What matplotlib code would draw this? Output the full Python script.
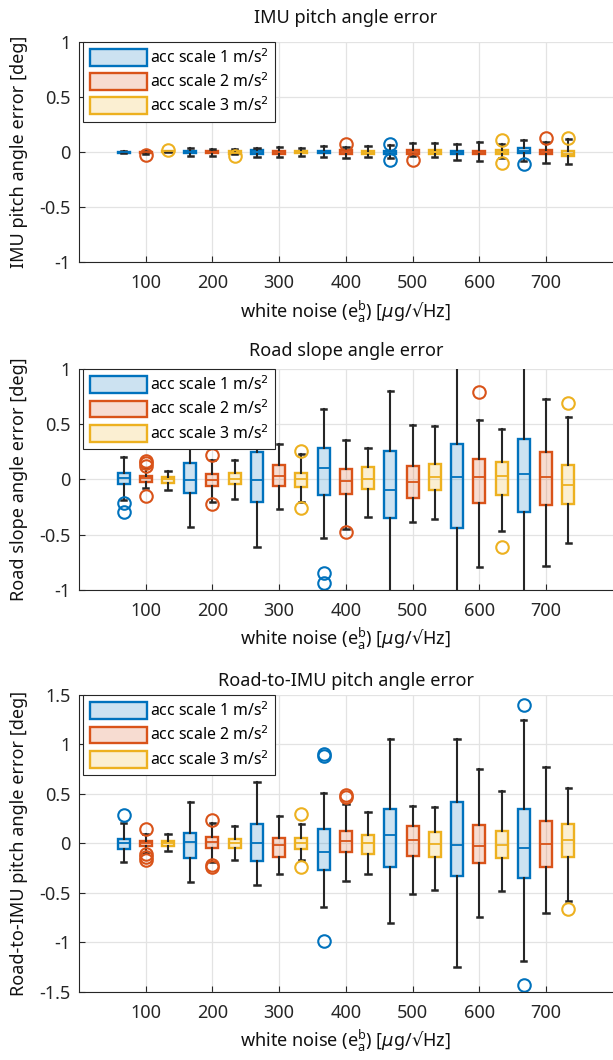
import matplotlib
matplotlib.use("Agg")
import matplotlib.pyplot as plt
from matplotlib.patches import Patch

plt.rcParams['font.family'] = ['Noto Sans', 'DejaVu Sans']
plt.rcParams['mathtext.fontset'] = 'dejavusans'

noise = [100, 200, 300, 400, 500, 600, 700]
scales = [1, 2, 3]
colors = ['#0072BD', '#D95319', '#EDB120']

# order of the 21 boxes: noise level, then acc scale 1/2/3
# --- IMU pitch angle error ---
imu_med = [-0.001, -0.003, 0.005, -0.003, -0.003, -0.006, 0.0, -0.003, -0.003,
           0.0, 0.0, -0.006, 0.0, 0.0, 0.0, -0.003, -0.003, 0.0, 0.006, 0.0, -0.015]
imu_q1 = [-0.006, -0.006, 0.002, -0.012, -0.012, -0.018, -0.015, -0.015, -0.012,
          -0.012, -0.015, -0.018, -0.015, -0.015, -0.015, -0.018, -0.018, -0.015, -0.012, -0.018, -0.036]
imu_q3 = [0.003, 0.002, 0.009, 0.008, 0.008, 0.006, 0.015, 0.01, 0.008,
          0.013, 0.015, 0.008, 0.013, 0.015, 0.018, 0.012, 0.012, 0.018, 0.033, 0.015, 0.008]
imu_lo = [-0.01, -0.014, -0.003, -0.036, -0.036, -0.022, -0.042, -0.042, -0.039,
          -0.045, -0.051, -0.045, -0.057, -0.039, -0.048, -0.069, -0.084, -0.057, -0.081, -0.096, -0.108]
imu_hi = [0.008, 0.012, 0.013, 0.036, 0.03, 0.03, 0.036, 0.042, 0.036,
          0.051, 0.048, 0.054, 0.063, 0.078, 0.081, 0.075, 0.09, 0.075, 0.111, 0.093, 0.114]
imu_out = [[], [-0.025], [0.02], [], [], [-0.032], [], [], [],
           [], [0.075], [], [0.075, -0.072], [-0.075], [], [], [], [0.11, -0.10], [-0.112], [0.124], [0.124]]

# --- Road slope angle error ---
slope_med = [0.017, 0.01, 0.0, -0.008, -0.005, 0.008, -0.008, 0.032, 0.0,
             0.10, -0.014, 0.0, -0.095, -0.02, 0.023, 0.023, 0.02, 0.032, 0.047, 0.026, -0.047]
slope_q1 = [-0.04, -0.02, -0.029, -0.12, -0.056, -0.044, -0.2, -0.056, -0.065,
            -0.14, -0.131, -0.086, -0.351, -0.17, -0.098, -0.442, -0.216, -0.14, -0.297, -0.231, -0.225]
slope_q3 = [0.06, 0.03, 0.026, 0.146, 0.047, 0.056, 0.25, 0.128, 0.056,
            0.282, 0.098, 0.116, 0.261, 0.119, 0.14, 0.324, 0.182, 0.158, 0.367, 0.249, 0.128]
slope_lo = [-0.19, -0.08, -0.095, -0.43, -0.205, -0.176, -0.61, -0.27, -0.2,
            -0.527, -0.45, -0.339, -1.3, -0.388, -0.357, -1.3, -0.795, -0.466, -1.3, -0.786, -0.578]
slope_hi = [0.2, 0.107, 0.08, 0.3, 0.18, 0.177, 0.45, 0.32, 0.23,
            0.635, 0.357, 0.288, 0.804, 0.493, 0.484, 1.3, 0.541, 0.457, 1.3, 0.725, 0.566]
slope_out = [[-0.21, -0.29], [0.17, 0.145, 0.12, -0.15], [], [], [0.22, -0.22], [], [], [], [0.26, -0.26],
             [-0.85, -0.934], [-0.478], [], [], [], [], [], [0.789], [-0.608], [], [], [0.689]]

# --- Road-to-IMU pitch angle error ---
r2i_med = [0.007, 0.0, 0.0, 0.01, 0.01, 0.0, 0.007, -0.017, 0.0,
           -0.084, 0.027, 0.007, 0.084, 0.034, -0.01, -0.02, -0.024, -0.02, -0.044, -0.01, 0.037]
r2i_q1 = [-0.057, -0.03, -0.024, -0.152, -0.044, -0.05, -0.175, -0.135, -0.054,
          -0.27, -0.091, -0.108, -0.236, -0.131, -0.135, -0.33, -0.199, -0.148, -0.354, -0.239, -0.138]
r2i_q3 = [0.047, 0.024, 0.024, 0.108, 0.064, 0.044, 0.192, 0.057, 0.057,
          0.145, 0.121, 0.088, 0.347, 0.175, 0.115, 0.418, 0.189, 0.128, 0.35, 0.222, 0.199]
r2i_lo = [-0.192, -0.094, -0.074, -0.388, -0.19, -0.172, -0.425, -0.307, -0.172,
          -0.647, -0.377, -0.307, -0.802, -0.512, -0.469, -1.254, -0.741, -0.479, -1.19, -0.704, -0.58]
r2i_hi = [0.202, 0.094, 0.094, 0.418, 0.205, 0.178, 0.62, 0.28, 0.195,
          0.506, 0.398, 0.32, 1.055, 0.377, 0.367, 1.052, 0.755, 0.529, 1.25, 0.775, 0.556]
r2i_out = [[0.283], [0.145, -0.11, -0.14, -0.17], [], [], [0.236, -0.215, -0.236], [], [], [], [0.297, -0.236],
           [0.9, 0.88, -0.985], [0.489, 0.465], [], [], [], [], [], [], [], [1.402, -1.432], [], [-0.667]]

panels = [
    ("IMU pitch angle error", "IMU pitch angle error [deg]",
     imu_med, imu_q1, imu_q3, imu_lo, imu_hi, imu_out, (-1, 1), [-1, -0.5, 0, 0.5, 1]),
    ("Road slope angle error", "Road slope angle error [deg]",
     slope_med, slope_q1, slope_q3, slope_lo, slope_hi, slope_out, (-1, 1), [-1, -0.5, 0, 0.5, 1]),
    ("Road-to-IMU pitch angle error", "Road-to-IMU pitch angle error [deg]",
     r2i_med, r2i_q1, r2i_q3, r2i_lo, r2i_hi, r2i_out, (-1.5, 1.5), [-1.5, -1, -0.5, 0, 0.5, 1, 1.5]),
]
# axes rectangles in figure fractions, and title gaps
rects = [(0.129, 0.7525, 0.8705, 0.2082),
         (0.129, 0.4434, 0.8705, 0.2085),
         (0.129, 0.0644, 0.8705, 0.2799)]
title_pads = [13.5, 9.5, 6.5]

dark = '#262626'
fig = plt.figure(figsize=(6.13, 10.6), dpi=100)

for (title, ylab, med, q1, q3, lo, hi, out, ylim, yt), rect, tpad in zip(panels, rects, title_pads):
    ax = fig.add_axes(rect)
    spacing = 100 / 3
    for j, c in enumerate(colors):
        stats, pos = [], []
        for i, n in enumerate(noise):
            k = 3 * i + j
            stats.append(dict(med=med[k], q1=q1[k], q3=q3[k],
                              whislo=lo[k], whishi=hi[k], fliers=out[k]))
            pos.append(n + (j - 1) * spacing)
        ax.bxp(stats, positions=pos, widths=18, capwidths=8, patch_artist=True,
               manage_ticks=False,
               boxprops=dict(facecolor=(c, 0.2), edgecolor=c, lw=1.7),
               medianprops=dict(color=c, lw=1.3),
               whiskerprops=dict(color=dark, lw=1.5),
               capprops=dict(color=dark, lw=1.8),
               flierprops=dict(marker='o', markerfacecolor='none',
                               markeredgecolor=c, markersize=9, markeredgewidth=1.5))
    ax.set_xlim(0, 800)
    ax.set_ylim(*ylim)
    ax.set_xticks(noise)
    ax.set_yticks(yt)
    ax.set_yticklabels([f"{v:g}" for v in yt])
    ax.grid(True, color='#e3e3e3', lw=0.9)
    ax.set_axisbelow(True)
    for s in ['top', 'right']:
        ax.spines[s].set_visible(False)
    for s in ['left', 'bottom']:
        ax.spines[s].set_color(dark)
    ax.tick_params(direction='in', length=4, colors=dark, labelsize=13)
    ax.tick_params(axis='x', pad=8.5)
    ax.tick_params(axis='y', pad=6)
    ax.set_title(title, fontsize=13, color='#111111', pad=tpad)
    ax.set_ylabel(ylab, fontsize=13, color='#111111', labelpad=8)
    ax.set_xlabel(r'white noise ($\mathregular{e_a^b}$) [$\mu$g/$√$Hz]',
                  fontsize=13, color='#111111', labelpad=4.5)
    handles = [Patch(facecolor=(c, 0.2), edgecolor=c, lw=1.7) for c in colors]
    labels = [f'acc scale {s} m/s$^2$' for s in scales]
    leg = ax.legend(handles, labels, loc='upper left', bbox_to_anchor=(0.008, 1.0),
                    borderaxespad=0, fontsize=11.4, handlelength=3.6, handleheight=1.25,
                    handletextpad=0.2, labelspacing=0.35, fancybox=False, framealpha=1,
                    edgecolor=dark, borderpad=0.4)
    leg.get_frame().set_linewidth(0.8)

fig.savefig('out.png', dpi=100)
